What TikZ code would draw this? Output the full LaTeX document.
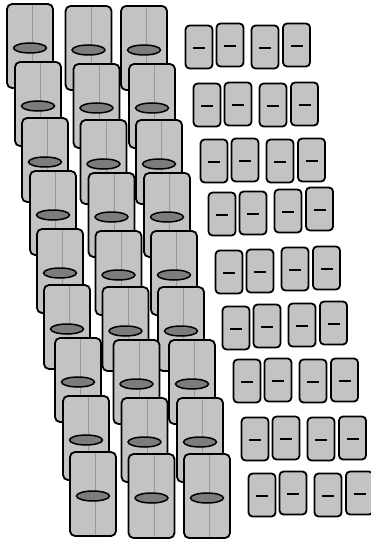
\documentclass[tikz,border=0pt]{standalone}
\usetikzlibrary{positioning}
\definecolor{slabgray}{HTML}{C3C3C3}
\definecolor{lensgray}{HTML}{7C7C7C}
\definecolor{seamgray}{HTML}{989898}
\tikzset{
  tall box/.style={draw=black, line width=1.8pt, fill=slabgray, rounded corners=5pt},
  short box/.style={draw=black, line width=1.8pt, fill=slabgray, rounded corners=4pt},
  seam line/.style={draw=seamgray, line width=1pt},
  lens style/.style={draw=black, line width=1.5pt, fill=lensgray},
  bar style/.style={draw=black, line width=1.6pt}
}

\begin{document}
\begin{tikzpicture}[x=1pt, y=-1pt]
\useasboundingbox (0,0) rectangle (371,540);
% one row: three tall slabs, then four short ones
\foreach \rx/\ry/\db/\dc/\dd in {7/4/-2/0/-2, 15/62/-1/0/-1, 22/118/-1/0/-1,
    30/171/-1/-3/-5, 37/229/-1/-3/-4, 44/285/-2/-3/-5,
    55/338/-1/0/-1, 63/396/-1/0/-1, 70/452/-2/0/-2}{
  \foreach \ox/\oy in {0/0, 58.5/2, 114/2}{
    \fill[slabgray] (\rx+\ox,\ry+\oy) [rounded corners=5pt] rectangle ++(46,84);
    \draw[seam line] (\rx+\ox+25.5,\ry+\oy+1) -- ++(0,82);
    \draw[tall box, fill=none] (\rx+\ox,\ry+\oy) rectangle ++(46,84);
    \draw[lens style] (\rx+\ox+23,\ry+\oy+44) ellipse [x radius=16.5pt, y radius=5pt];
  }
  \foreach \sx/\sy in {178.5/0, 209.5/\db, 244.5/\dc, 276/\dd}{
    \draw[short box] (\rx+\sx,\ry+21.5+\sy) rectangle ++(27,43);
    \draw[bar style] (\rx+\sx+7.5,\ry+\sy+44) -- ++(12,0);
  }
}
\end{tikzpicture}
\end{document}
